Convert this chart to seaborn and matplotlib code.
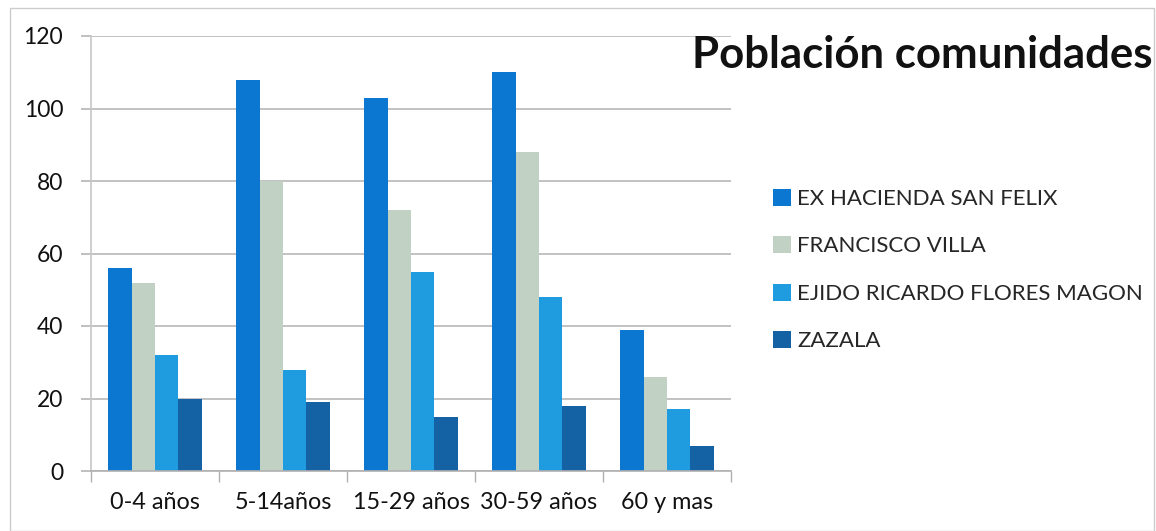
import matplotlib
matplotlib.use("Agg")
import matplotlib.pyplot as plt
import seaborn as sns
import pandas as pd
import numpy as np
from matplotlib.patches import Rectangle

categories = ["0-4 años", "5-14años", "15-29 años", "30-59 años", "60 y mas"]
series_names = ["EX HACIENDA SAN FELIX", "FRANCISCO VILLA", "EJIDO RICARDO FLORES MAGON", "ZAZALA"]
ex_hacienda = [56, 108, 103, 110, 39]
francisco_villa = [52, 80, 72, 88, 26]
ejido_ricardo = [32, 28, 55, 48, 17]
zazala = [20, 19, 15, 18, 7]
colors = ["#0b77d0", "#c1d1c4", "#1f9ce0", "#1462a4"]
yticks = [0, 20, 40, 60, 80, 100, 120]

rows = []
for name, vals in zip(series_names, [ex_hacienda, francisco_villa, ejido_ricardo, zazala]):
    for c, v in zip(categories, vals):
        rows.append({"cat": c, "serie": name, "val": v})
df = pd.DataFrame(rows)

sns.set_theme(style="white")
plt.rcParams["font.family"] = ["Lato", "DejaVu Sans"]

fig = plt.figure(figsize=(11.56, 5.31), dpi=100)
ax = fig.add_axes([91/1156, 60/531, 640/1156, 435/531])

sns.barplot(data=df, x="cat", y="val", hue="serie", order=categories,
            hue_order=series_names, palette=colors, width=0.73,
            saturation=1, ax=ax, edgecolor="none", linewidth=0)

ax.set_ylim(0, 120)
ax.set_xlim(-0.5, len(categories) - 0.5)
ax.set_yticks(yticks)
ax.yaxis.grid(True, color="#b8b8b8", linewidth=1.2)
ax.set_axisbelow(True)
ax.set_xlabel("")
ax.set_ylabel("")
for s in ["top", "right"]:
    ax.spines[s].set_visible(False)
ax.spines["left"].set_color("#c8c8c8")
ax.spines["bottom"].set_color("#b0b0b0")
ax.spines["bottom"].set_linewidth(1.2)
ax.tick_params(axis="y", length=7, color="#b8b8b8", labelsize=16.5, pad=13, left=True, labelcolor="#111111")
ax.tick_params(axis="x", which="major", length=0, labelsize=16.8, pad=15, labelcolor="#111111")
ax.set_xticks(np.arange(-0.5, len(categories), 1), minor=True)
ax.tick_params(axis="x", which="minor", length=8, color="#b0b0b0", bottom=True)

handles, labels = ax.get_legend_handles_labels()
ax.legend(handles, labels, loc="center left", bbox_to_anchor=(764/1156, 1 - 270/531),
          bbox_transform=fig.transFigure, frameon=False, fontsize=16,
          handlelength=0.8, handleheight=0.8, handletextpad=0.3, labelspacing=1.22,
          borderaxespad=0)

fig.text(1152/1156, 1 - 55/531, "Población comunidades", ha="right", va="center",
         fontsize=31.5, fontweight="bold", color="#111111")

fig.patches.append(Rectangle((10/1156, 0), 1 - 10/1156 - 2/1156, 1 - 8/531,
                             transform=fig.transFigure, fill=False,
                             edgecolor="#cccccc", linewidth=1))

fig.savefig("out.png", dpi=100)
